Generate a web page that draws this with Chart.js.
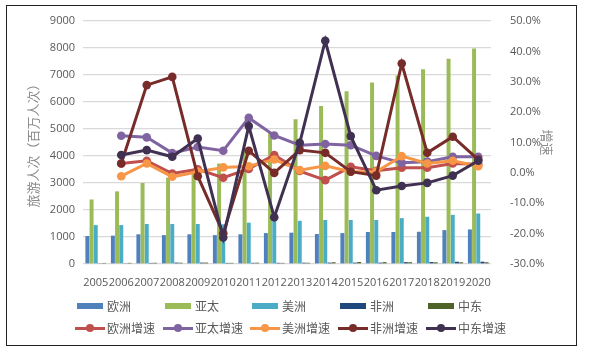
<!DOCTYPE html>
<html><head><meta charset="utf-8">
<script src="https://cdn.jsdelivr.net/npm/chart.js@4.4.1/dist/chart.umd.min.js"></script>
<style>
html,body{margin:0;padding:0;background:#fff;}
#wrap{position:relative;width:589px;height:354px;overflow:hidden;}
#frame{position:absolute;left:6px;top:5px;width:569px;height:339px;border:1.5px solid #222;box-sizing:content-box;pointer-events:none;}
#c{position:absolute;left:0;top:0;}
.lg{position:absolute;font:12px "Noto Sans CJK SC",sans-serif;color:#595959;white-space:nowrap;line-height:14px;}
.mk{position:absolute;}
</style></head>
<body>
<div id="wrap">
<canvas id="c" width="589" height="354"></canvas>
<div id="frame"></div>
<div id="legend"></div>
</div>
<script>
const categories = ['2005','2006','2007','2008','2009','2010','2011','2012','2013','2014','2015','2016','2017','2018','2019','2020'];
const leftTicks = [0,1000,2000,3000,4000,5000,6000,7000,8000,9000];
const rightTicks = [-30,-20,-10,0,10,20,30,40,50];

const europe   = [1035,1050,1100,1070,1100,1070,1100,1145,1160,1110,1145,1185,1185,1195,1255,1280];
const asiaPac  = [2390,2690,3000,3200,3450,3720,4250,4850,5360,5850,6400,6720,6980,7210,7600,7980];
const americas = [1440,1440,1480,1480,1480,1470,1530,1610,1600,1630,1630,1630,1700,1750,1820,1870];
const africa   = [30,31,40,52,52,41,44,44,48,51,51,51,69,74,83,86];
const midEast  = [40,42,46,48,53,42,48,41,46,65,73,69,66,64,63,65];

const europeGrowth   = [null,3.1,4.0,-0.2,1.2,-1.6,1.3,5.9,0.6,-2.4,2.0,0.7,1.7,1.7,3.1,2.8];
const asiaGrowth     = [null,12.2,11.7,6.5,8.5,7.3,18.1,12.3,9.1,9.5,9.1,5.6,3.3,3.7,5.3,5.3];
const americasGrowth = [null,-1.1,3.1,-1.3,0.4,1.8,2.2,4.4,0.9,2.3,0.4,0.4,5.5,3.1,4.0,2.2];
const africaGrowth   = [null,3.1,28.9,31.6,-1.1,-19.9,7.3,0.0,7.5,6.6,0.4,-0.9,36.0,6.6,11.9,4.4];
const midEastGrowth  = [null,5.9,7.5,5.3,11.3,-21.3,15.4,-14.6,9.9,43.5,12.1,-5.7,-4.3,-3.3,-0.9,4.0];

const tickFont = {family:'"Open Sans", sans-serif', size:11};
const gray = '#595959';

function bar(label, data, color){
  return {type:'bar', label, data, backgroundColor:color, yAxisID:'y', order:10,
    categoryPercentage:0.82, barPercentage:0.95};
}
function line(label, data, color, order){
  return {type:'line', label, data, borderColor:color, backgroundColor:color, yAxisID:'y1', order,
    borderWidth:3, pointRadius:4.3, pointHoverRadius:4.3, pointBorderWidth:0, tension:0, spanGaps:false};
}

const chart = new Chart(document.getElementById('c'), {
  data:{
    labels: categories,
    datasets:[
      bar('欧洲', europe, '#4F81BD'),
      bar('亚太', asiaPac, '#9BBB59'),
      bar('美洲', americas, '#4BACC6'),
      bar('非洲', africa, '#1F497D'),
      bar('中东', midEast, '#4F6228'),
      line('欧洲增速', europeGrowth, '#C0504D', 5),
      line('亚太增速', asiaGrowth, '#8064A2', 4),
      line('美洲增速', americasGrowth, '#F79646', 3),
      line('非洲增速', africaGrowth, '#772C2A', 2),
      line('中东增速', midEastGrowth, '#403152', 1)
    ]
  },
  options:{
    responsive:false, animation:false, devicePixelRatio:1,
    layout:{padding:{top:21,left:0,right:0,bottom:0}},
    plugins:{legend:{display:false}, tooltip:{enabled:false}},
    scales:{
      x:{
        grid:{display:false}, border:{display:false},
        ticks:{font:tickFont, color:gray, autoSkip:false, maxRotation:0, minRotation:0, padding:4},
        afterFit(s){ s.height = 90; }
      },
      y:{
        position:'left', min:0, max:9000,
        afterBuildTicks(s){ s.ticks = leftTicks.map(v=>({value:v})); },
        grid:{color:'#D9D9D9', lineWidth:1.3, drawTicks:false},
        border:{display:false},
        ticks:{font:tickFont, color:gray, padding:8, callback:v=>String(v)},
        title:{display:true, text:'旅游人次（百万人次）', color:'#8C8C8C',
          font:{family:'"Noto Sans CJK SC", sans-serif', size:13}, padding:{top:25,bottom:0}},
        afterFit(s){ s.width = 83; }
      },
      y1:{
        position:'right', min:-30, max:50,
        afterBuildTicks(s){ s.ticks = rightTicks.map(v=>({value:v})); },
        grid:{display:false, drawOnChartArea:false},
        border:{display:false},
        ticks:{font:tickFont, color:gray, padding:11, callback:v=>Number(v).toFixed(1)+'%'},
        title:{display:true, text:'增速', color:'#8C8C8C',
          font:{family:'"Noto Sans CJK SC", sans-serif', size:13}, padding:{top:34,bottom:0}},
        afterFit(s){ s.width = 98; }
      }
    }
  }
});

// Legend (Excel-style fixed columns), built from the chart's datasets
(function(){
  const lg = document.getElementById('legend');
  const colX = [77,165,252,340,428];
  const rowY = [306,328];
  chart.data.datasets.forEach((ds,i)=>{
    const row = i<5?0:1, col = i%5;
    const x = colX[col], y = rowY[row];
    if(row===0){
      const m = document.createElement('div');
      m.className='mk';
      m.style.cssText=`left:${x}px;top:${y-3}px;width:26px;height:6px;background:${ds.backgroundColor};`;
      lg.appendChild(m);
    } else {
      const l = document.createElement('div');
      l.className='mk';
      l.style.cssText=`left:${x-2}px;top:${y-1.5}px;width:30px;height:3px;background:${ds.borderColor};`;
      lg.appendChild(l);
      const d = document.createElement('div');
      d.className='mk';
      d.style.cssText=`left:${x+13-4}px;top:${y-4}px;width:8px;height:8px;border-radius:50%;background:${ds.borderColor};`;
      lg.appendChild(d);
    }
    const t = document.createElement('div');
    t.className='lg';
    t.textContent = ds.label;
    t.style.left = (x+30)+'px';
    t.style.top = (y-7)+'px';
    lg.appendChild(t);
  });
})();
</script>
</body></html>
